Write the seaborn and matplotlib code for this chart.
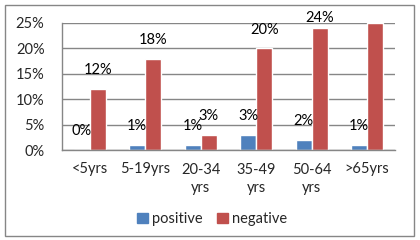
import pandas as pd
import numpy as np
import seaborn as sns
import matplotlib.pyplot as plt
from matplotlib.patches import Rectangle

# Data
age_groups = ['<5yrs', '5-19yrs', '20-34\nyrs', '35-49\nyrs', '50-64\nyrs', '>65yrs']
positive = [0.00, 0.01, 0.01, 0.03, 0.02, 0.01]
negative = [0.12, 0.18, 0.03, 0.20, 0.24, 0.25]
series_names = ['positive', 'negative']
y_ticks = [0, 0.05, 0.10, 0.15, 0.20, 0.25]
colors = ['#4F81BD', '#C0504D']
grid_color = '#868686'

df = pd.DataFrame({
    'group': age_groups * 2,
    'value': positive + negative,
    'series': [series_names[0]] * len(age_groups) + [series_names[1]] * len(age_groups),
})

sns.set_style('white')
plt.rcParams['font.family'] = ['Lato', 'DejaVu Sans']

fig = plt.figure(figsize=(4.2, 2.4), dpi=100)
ax = fig.add_axes([62 / 420, 1 - 150 / 240, 333 / 420, 127 / 240])

sns.barplot(data=df, x='group', y='value', hue='series', palette=colors,
            width=0.58, gap=0, saturation=1, legend=False, ax=ax)

ax.set_ylim(0, 0.25)
ax.set_xlim(-0.5, len(age_groups) - 0.5)
ax.set_yticks(y_ticks)
ax.set_yticklabels([f'{int(round(t * 100))}%' for t in y_ticks], fontsize=10.5)
ax.yaxis.grid(True, color=grid_color, linewidth=1)
ax.set_axisbelow(True)
ax.set_xlabel('')
ax.set_ylabel('')

for side in ['top', 'right']:
    ax.spines[side].set_visible(False)
for side in ['left', 'bottom']:
    ax.spines[side].set_color(grid_color)
    ax.spines[side].set_linewidth(1)

ax.tick_params(axis='y', length=3.6, color=grid_color, direction='out', pad=9)
ax.tick_params(axis='x', which='major', length=0, pad=9, labelsize=10.5)
for lbl in ax.get_xticklabels():
    lbl.set_linespacing(1.45)
ax.set_xticks(np.arange(-0.5, len(age_groups), 1), minor=True)
ax.tick_params(axis='x', which='minor', length=3.6, color=grid_color, direction='out')

# data labels above bars (Excel keeps them inside the top of the chart)
for container, vals in zip(ax.containers, [positive, negative]):
    for bar, v in zip(container, vals):
        if v >= 0.25:
            continue
        x = bar.get_x() + bar.get_width() / 2
        y = min(v + 0.023, 0.246)
        ax.text(x, y, f'{int(round(v * 100))}%', ha='center', va='bottom',
                fontsize=10.5, color='#000000')

handles = [Rectangle((0, 0), 1, 1, color=c) for c in colors]
fig.legend(handles, series_names, loc='center', bbox_to_anchor=(212 / 420, 1 - 219 / 240),
           ncol=2, frameon=False, fontsize=10.5, handlelength=0.75, handleheight=0.75,
           handletextpad=0.25, columnspacing=1.0)

# outer chart border
fig.patches.append(Rectangle((5 / 420, 4 / 240), 409 / 420, 231 / 240, transform=fig.transFigure,
                             fill=False, edgecolor=grid_color, linewidth=1))

fig.savefig('out.png', dpi=100)
plt.close(fig)
